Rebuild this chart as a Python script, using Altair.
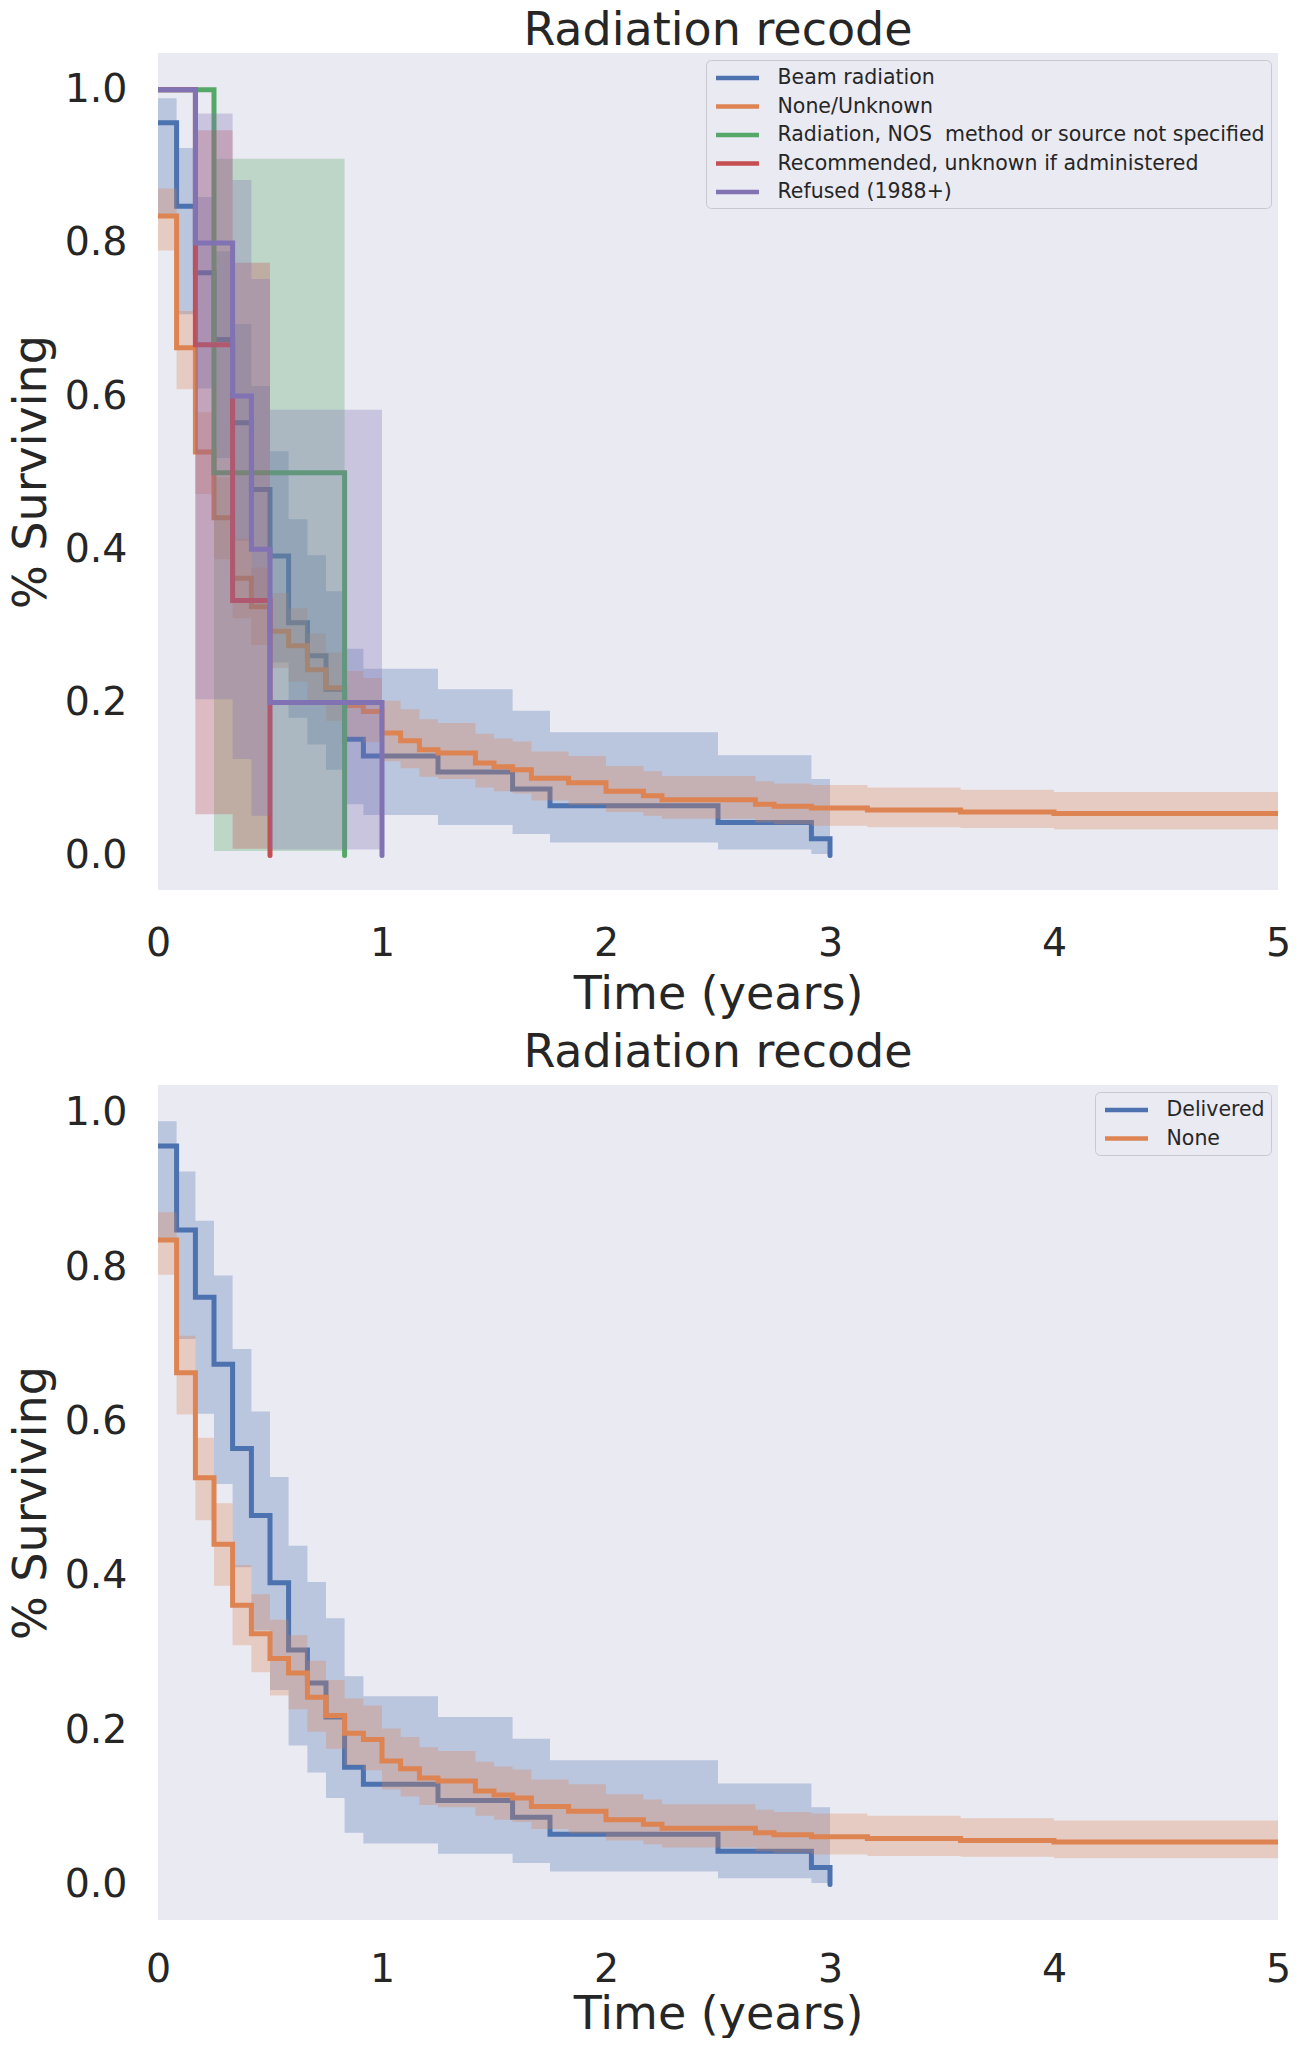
import altair as alt
import pandas as pd

# ---------------- data (time in years) ----------------
beam_t = [0, 0.083, 0.167, 0.25, 0.333, 0.417, 0.5, 0.583, 0.667, 0.75, 0.833, 0.917,
          1.25, 1.583, 1.75, 2.5, 2.917, 3.0]
beam_s = [0.957, 0.848, 0.761, 0.674, 0.565, 0.478, 0.391, 0.304, 0.261, 0.217, 0.152, 0.130,
          0.109, 0.087, 0.065, 0.043, 0.022, 0.0]
beam_lo = [0.837, 0.707, 0.610, 0.519, 0.411, 0.329, 0.252, 0.180, 0.145, 0.112, 0.067, 0.053,
           0.040, 0.028, 0.017, 0.008, 0.002, 0.002]
beam_hi = [0.989, 0.924, 0.860, 0.789, 0.694, 0.613, 0.528, 0.439, 0.392, 0.345, 0.270, 0.244,
           0.217, 0.189, 0.161, 0.131, 0.100, 0.100]

none_t = [0, 0.083, 0.167, 0.25, 0.333, 0.417, 0.5, 0.583, 0.667, 0.75, 0.833, 0.917, 1.0,
          1.083, 1.167, 1.25, 1.417, 1.5, 1.583, 1.667, 1.833, 2.0, 2.167, 2.25, 2.667, 2.75,
          2.917, 3.167, 3.583, 4.0, 5.0]
none_s = [0.835, 0.663, 0.527, 0.441, 0.362, 0.325, 0.293, 0.274, 0.2425, 0.219, 0.196, 0.188,
          0.160, 0.150, 0.138, 0.134, 0.121, 0.116, 0.112, 0.101, 0.095, 0.084, 0.078, 0.073,
          0.067, 0.0645, 0.062, 0.0595, 0.057, 0.055, 0.055]
none_lo = [0.790, 0.609, 0.472, 0.387, 0.310, 0.275, 0.245, 0.227, 0.198, 0.176, 0.155, 0.148,
           0.123, 0.114, 0.103, 0.100, 0.089, 0.084, 0.081, 0.072, 0.066, 0.057, 0.052, 0.048,
           0.043, 0.041, 0.039, 0.037, 0.036, 0.034, 0.034]
none_hi = [0.871, 0.711, 0.579, 0.494, 0.414, 0.376, 0.343, 0.323, 0.290, 0.265, 0.241, 0.232,
           0.202, 0.191, 0.178, 0.173, 0.159, 0.153, 0.149, 0.136, 0.130, 0.117, 0.110, 0.104,
           0.097, 0.094, 0.092, 0.089, 0.086, 0.083, 0.083]

nos_t = [0, 0.25, 0.833]
nos_s = [1.0, 0.5, 0.0]
nos_lo = [1.0, 0.006, 0.006]
nos_hi = [1.0, 0.910, 0.910]

rec_t = [0, 0.167, 0.333, 0.5]
rec_s = [1.0, 0.667, 0.333, 0.0]
rec_lo = [1.0, 0.054, 0.009, 0.009]
rec_hi = [1.0, 0.947, 0.774, 0.774]

ref_t = [0, 0.167, 0.333, 0.417, 0.5, 1.0]
ref_s = [1.0, 0.8, 0.6, 0.4, 0.2, 0.0]
ref_lo = [1.0, 0.204, 0.126, 0.052, 0.008, 0.008]
ref_hi = [1.0, 0.969, 0.882, 0.753, 0.582, 0.582]

top_names = ["Beam radiation", "None/Unknown",
             "Radiation, NOS\u00a0 method or source not specified",
             "Recommended, unknown if administered", "Refused (1988+)"]
bottom_names = ["Delivered", "None"]
x_ticks = [0, 1, 2, 3, 4, 5]
y_ticks = [0.0, 0.2, 0.4, 0.6, 0.8, 1.0]

# ---------------- style ----------------
BLUE, ORANGE, GREEN, RED, PURPLE = "#4C72B0", "#DD8452", "#55A868", "#C44E52", "#8172B3"
BG = "#EAEAF2"
TXT = "#262626"
FONT = "DejaVu Sans"
W = 1120


def panel(series, y_domain, height, title_offset, label_pad, title_pad):
    names = [s[0] for s in series]
    colors = [s[1] for s in series]
    x = alt.X("t:Q", scale=alt.Scale(domain=[0, 5], nice=False, zero=False),
              axis=alt.Axis(values=x_ticks, format="d", title="Time (years)",
                            labelFlush=False, labelPadding=label_pad, titlePadding=title_pad))
    yscale = alt.Scale(domain=y_domain, nice=False, zero=False)
    yaxis = alt.Axis(values=y_ticks, format=".1f", title="% Surviving",
                     labelFlush=False, labelPadding=31, titlePadding=9)
    legend = alt.Legend(title=None, orient="top-right", offset=7,
                        fillColor=BG, strokeColor="#C8C8CE", cornerRadius=5, padding=5.5,
                        labelFont=FONT, labelFontSize=20.5, labelColor=TXT, labelLimit=800,
                        labelOffset=41, symbolType="M-0.8,0H3.5", symbolSize=400,
                        symbolStrokeWidth=4.5, rowPadding=5.5)
    layers = []
    for name, color, t, s, lo, hi in series:
        df = pd.DataFrame({"t": t, "S": s, "lo": lo, "hi": hi, "series": [name] * len(t)})
        band = alt.Chart(df).mark_area(interpolate="step-after", opacity=0.3, color=color,
                                       clip=True).encode(
            x=x, y=alt.Y("lo:Q", scale=yscale, axis=yaxis), y2="hi:Q")
        line = alt.Chart(df).mark_line(interpolate="step-after", strokeWidth=5,
                                       strokeCap="round", clip=True).encode(
            x=x, y=alt.Y("S:Q", scale=yscale, axis=yaxis),
            color=alt.Color("series:N", scale=alt.Scale(domain=names, range=colors),
                            legend=legend))
        layers += [band, line]
    return alt.layer(*layers).properties(
        width=W, height=height,
        title=alt.TitleParams("Radiation recode", fontSize=46, font=FONT,
                              fontWeight="normal", color=TXT, anchor="middle",
                              offset=title_offset))


top = panel([
    (top_names[0], BLUE, beam_t, beam_s, beam_lo, beam_hi),
    (top_names[1], ORANGE, none_t, none_s, none_lo, none_hi),
    (top_names[2], GREEN, nos_t, nos_s, nos_lo, nos_hi),
    (top_names[3], RED, rec_t, rec_s, rec_lo, rec_hi),
    (top_names[4], PURPLE, ref_t, ref_s, ref_lo, ref_hi),
], [-0.045, 1.048], 837, -2, 34, 10)

bottom = panel([
    (bottom_names[0], BLUE, beam_t, beam_s, beam_lo, beam_hi),
    (bottom_names[1], ORANGE, none_t, none_s, none_lo, none_hi),
], [-0.046, 1.036], 835, 8, 30, 4)

chart = alt.vconcat(top, bottom, spacing=12).resolve_scale(
    x="independent", y="independent", color="independent"
).resolve_legend(color="independent").properties(
    padding={"left": 0, "top": 0, "right": 0, "bottom": 0}
).configure_view(fill=BG, stroke=None).configure_axis(
    grid=False, domain=False, ticks=False,
    labelFont=FONT, labelFontSize=39.5, labelColor=TXT,
    titleFont=FONT, titleFontSize=46, titleFontWeight="normal", titleColor=TXT,
)

chart.save("out.html", embed_options={"renderer": "svg", "actions": False})
